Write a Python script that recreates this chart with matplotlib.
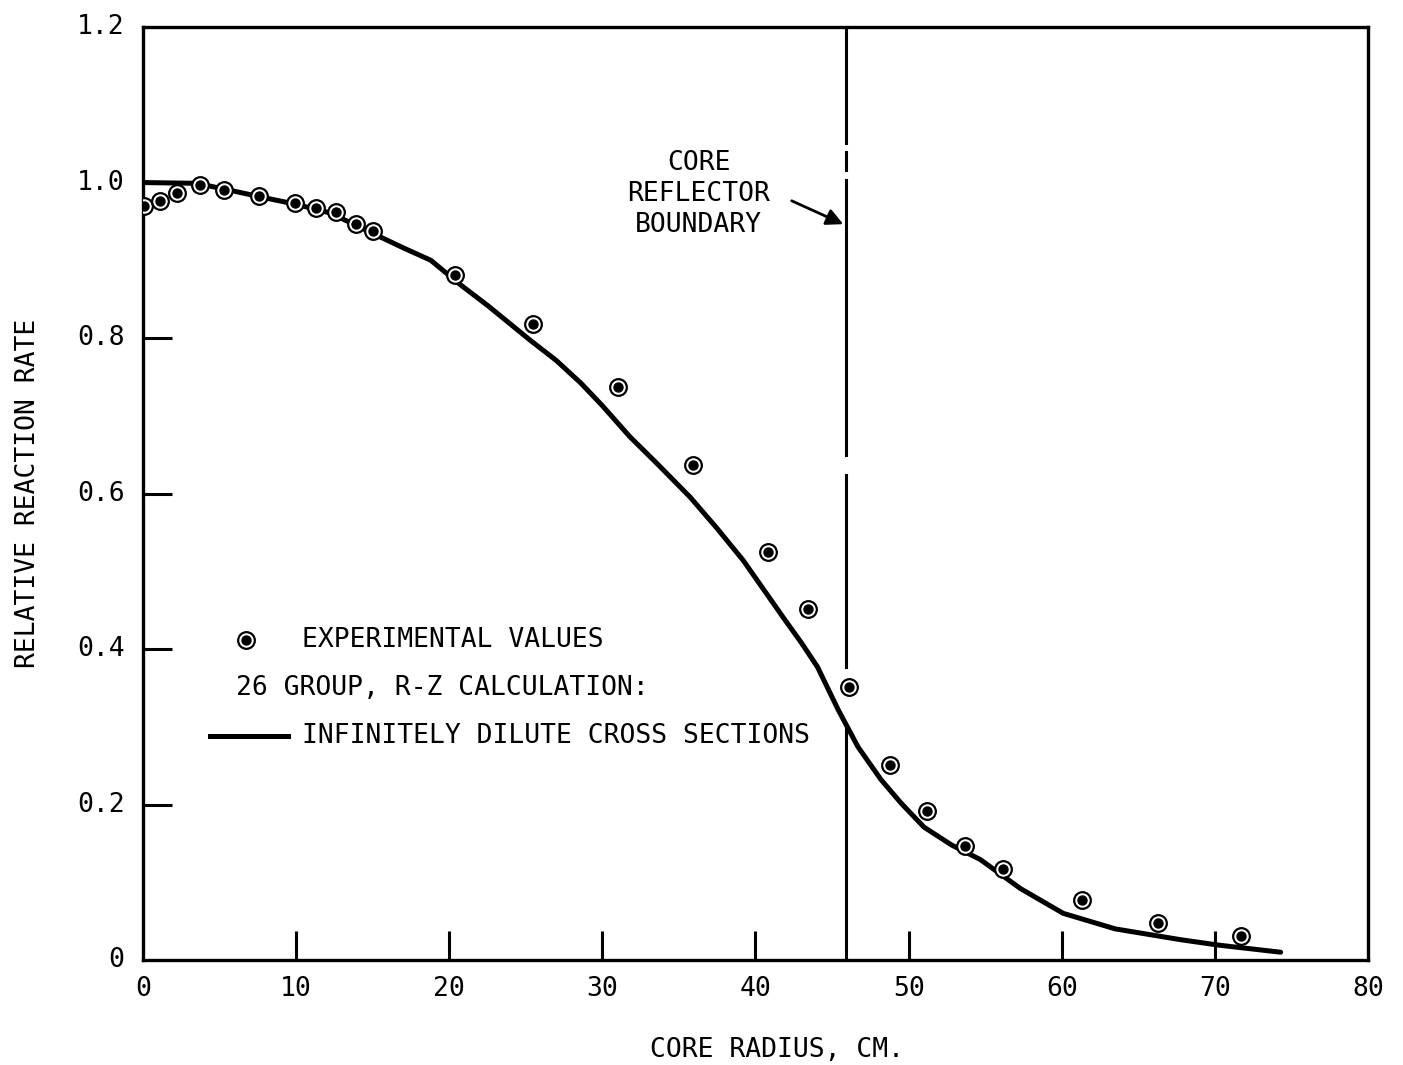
import numpy as np
import matplotlib
matplotlib.use("Agg")
import matplotlib.pyplot as plt

# ---------- Daten ----------
# Messwerte (experimental values)
r_exp = [0.1, 1.1, 2.2, 3.7, 5.3, 7.6, 9.9, 11.3, 12.6, 13.9, 15.0, 20.4, 25.5,
         31.0, 35.9, 40.8, 43.4, 46.1, 48.8, 51.2, 53.7, 56.2, 61.3, 66.3, 71.7]
rate_exp = [0.970, 0.976, 0.986, 0.997, 0.990, 0.983, 0.974, 0.967, 0.962, 0.947,
            0.938, 0.881, 0.818, 0.737, 0.637, 0.525, 0.451, 0.351, 0.251, 0.192,
            0.147, 0.117, 0.077, 0.048, 0.031]

# 26 group R-Z calculation, infinitely dilute cross sections
r_calc = [0, 3.5, 5.7, 7.8, 10, 12.2, 13.8, 15.5, 17.0, 18.8, 20.7, 22.5, 25.3,
          27.0, 28.6, 30.0, 31.8, 33.5, 35.75, 37.5, 39.2, 41.8, 43.0, 44.05,
          45.4, 46.7, 48.2, 49.5, 51.0, 52.8, 54.7, 57.3, 60.1, 63.5, 67.8, 70.3,
          74.3]
rate_calc = [1.0, 0.999, 0.990, 0.981, 0.972, 0.961, 0.946, 0.930, 0.916, 0.900,
             0.869, 0.842, 0.797, 0.771, 0.742, 0.713, 0.673, 0.640, 0.595, 0.555,
             0.514, 0.441, 0.408, 0.377, 0.322, 0.274, 0.232, 0.202, 0.171, 0.148,
             0.129, 0.092, 0.060, 0.040, 0.026, 0.019, 0.010]

r_boundary = 45.9

xticks = [10, 20, 30, 40, 50, 60, 70]
yticks = [0.2, 0.4, 0.6, 0.8, 1.0]

plt.rcParams["font.family"] = ["DejaVu Sans Mono"]
plt.rcParams["font.size"] = 19

fig = plt.figure(figsize=(14.03, 10.65), dpi=100)
ax = fig.add_axes([0.1019, 0.0986, 0.8731, 0.876])

# ---------- Kurve ----------
ax.plot(r_calc, rate_calc, color="black", lw=3.6, solid_capstyle="round",
        solid_joinstyle="round", zorder=3)

# ---------- Messpunkte ----------
ax.plot(r_exp, rate_exp, "o", ms=12, mfc="white", mec="black", mew=1.6, zorder=4)
ax.plot(r_exp, rate_exp, "o", ms=7.5, mfc="black", mec="black", mew=0, zorder=5)

# ---------- Kern/Reflektor-Grenze ----------
segs = [(0.0, 0.25), (0.314, 0.52), (0.541, 0.836), (0.847, 0.866),
        (0.876, 0.997)]
for lo, hi in segs:
    ax.axvline(r_boundary, ymin=lo, ymax=hi, color="black", lw=2.2, zorder=2)

ax.text(36.3, 0.985, "CORE\nREFLECTOR\nBOUNDARY", ha="center", va="center",
        linespacing=1.25)
ax.annotate("", xy=(r_boundary, 0.945), xytext=(42.2, 0.978),
            arrowprops=dict(arrowstyle="-|>", color="black", lw=2,
                            mutation_scale=25))

# ---------- Legende ----------
ax.plot([6.7], [0.412], "o", ms=12, mfc="white", mec="black", mew=1.6)
ax.plot([6.7], [0.412], "o", ms=7.5, mfc="black", mec="black", mew=0)
ax.text(10.4, 0.412, "EXPERIMENTAL VALUES", va="center")
ax.text(6.1, 0.35, "26 GROUP, R-Z CALCULATION:", va="center")
ax.plot([4.4, 9.5], [0.288, 0.288], color="black", lw=3.6)
ax.text(10.4, 0.288, "INFINITELY DILUTE CROSS SECTIONS", va="center")

# ---------- Achsen ----------
ax.set_xlim(0, 80)
ax.set_ylim(0, 1.2)
for s in ax.spines.values():
    s.set_linewidth(2.4)

ax.set_xticks(xticks)
ax.set_xticklabels([])
ax.set_yticks(yticks)
ax.set_yticklabels([])
ax.tick_params(direction="in", length=21, width=2.2, top=False, right=False)

for x in [0] + xticks + [80]:
    ax.text(x, -0.02, str(x), ha="center", va="top")
for y, lab in zip([0, 0.2, 0.4, 0.6, 0.8, 1.0, 1.2],
                  ["0", "0.2", "0.4", "0.6", "0.8", "1.0", "1.2"]):
    ax.text(-1.2, y, lab, ha="right", va="center")

ax.set_xlabel("CORE RADIUS, CM.")
ax.xaxis.set_label_coords(0.5176, -0.083)
ax.set_ylabel("RELATIVE REACTION RATE", labelpad=70)

fig.savefig("out.png", dpi=100)
